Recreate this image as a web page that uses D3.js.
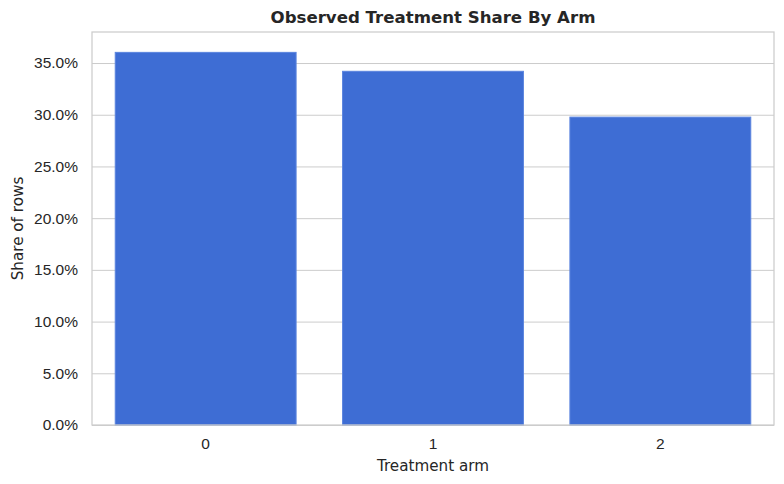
<!DOCTYPE html>
<html>
<head>
<meta charset="utf-8">
<title>Observed Treatment Share By Arm</title>
<script src="https://d3js.org/d3.v7.min.js"></script>
<style>
  body { margin: 0; background: #fff; }
  svg { display: block; font-family: "DejaVu Sans", sans-serif; }
  .tick text { fill: #262626; font-size: 15.5px; }
  .grid line { stroke: #cccccc; stroke-width: 1; }
</style>
</head>
<body>
<svg width="784" height="484"></svg>
<script>
  // share of rows per treatment arm
  var arms = ["0", "1", "2"];
  var shares = [0.3603, 0.3420, 0.2977];
  var yTicks = [0, 0.05, 0.10, 0.15, 0.20, 0.25, 0.30, 0.35];
  var yMax = 0.38;

  var svg = d3.select("svg"),
      margin = {top: 32, right: 10, bottom: 59, left: 92},
      width = +svg.attr("width") - margin.left - margin.right,
      height = +svg.attr("height") - margin.top - margin.bottom;

  var x = d3.scaleBand()
      .domain(arms)
      .range([0, width])
      .paddingInner(0.2)
      .paddingOuter(0.1);

  var y = d3.scaleLinear()
      .domain([0, yMax])
      .range([height, 0]);

  var g = svg.append("g")
      .attr("transform", "translate(" + margin.left + "," + margin.top + ")");

  // horizontal grid
  g.append("g")
      .attr("class", "grid")
    .selectAll("line")
    .data(yTicks)
    .enter().append("line")
      .attr("x1", 0)
      .attr("x2", width)
      .attr("y1", function(d) { return y(d) + 0.5; })
      .attr("y2", function(d) { return y(d) + 0.5; });

  g.selectAll(".bar")
    .data(shares)
    .enter().append("rect")
      .attr("class", "bar")
      .attr("x", function(d, i) { return x(arms[i]) + 0.5; })
      .attr("width", x.bandwidth() - 1)
      .attr("y", function(d) { return y(d); })
      .attr("height", function(d) { return height - y(d); })
      .style("fill", "#3e6dd4")
      .style("stroke", "#5a84de")
      .style("stroke-width", 1);

  // frame
  g.append("rect")
      .attr("width", width)
      .attr("height", height)
      .style("fill", "none")
      .style("stroke", "#cccccc")
      .style("stroke-width", 1.25);

  var yAxis = g.append("g")
      .call(d3.axisLeft(y).tickValues(yTicks).tickFormat(d3.format(".1%")).tickSize(0).tickPadding(14));
  yAxis.select(".domain").remove();

  var xAxis = g.append("g")
      .attr("transform", "translate(0," + height + ")")
      .call(d3.axisBottom(x).tickSize(0).tickPadding(13));
  xAxis.select(".domain").remove();

  svg.append("text")
      .attr("x", margin.left + width / 2)
      .attr("y", 23)
      .attr("text-anchor", "middle")
      .style("font-size", "16.6px")
      .style("font-weight", "bold")
      .style("fill", "#262626")
      .text("Observed Treatment Share By Arm");

  svg.append("text")
      .attr("x", margin.left + width / 2)
      .attr("y", 471)
      .attr("text-anchor", "middle")
      .style("font-size", "15.2px")
      .style("fill", "#262626")
      .text("Treatment arm");

  svg.append("text")
      .attr("transform", "translate(23," + (margin.top + height / 2) + ") rotate(-90)")
      .attr("text-anchor", "middle")
      .style("font-size", "15.2px")
      .style("fill", "#262626")
      .text("Share of rows");
</script>
</body>
</html>
